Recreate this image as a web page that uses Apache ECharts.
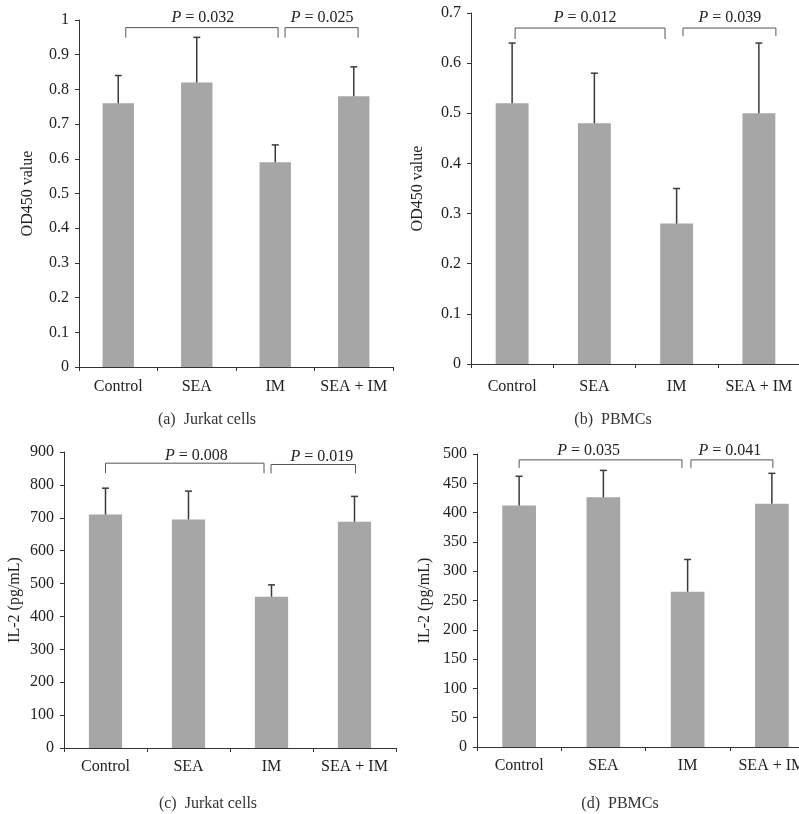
<!DOCTYPE html>
<html>
<head>
<meta charset="utf-8">
<script src="https://cdn.jsdelivr.net/npm/echarts@6/dist/echarts.min.js"></script>
<style>html,body{margin:0;padding:0;background:#fff;}#c{width:799px;height:814px;}</style>
</head>
<body>
<div id="c"></div>
<script>
// ---- data ----
const categories = ['Control', 'SEA', 'IM', 'SEA + IM'];

const jurkatOD = [0.76, 0.82, 0.59, 0.78];
const jurkatODErr = [0.08, 0.13, 0.05, 0.085];
const pbmcOD = [0.52, 0.48, 0.28, 0.50];
const pbmcODErr = [0.12, 0.10, 0.07, 0.14];
const jurkatIL2 = [710, 695, 460, 688];
const jurkatIL2Err = [80, 86, 36, 77];
const pbmcIL2 = [412, 426, 265, 415];
const pbmcIL2Err = [50, 46, 55, 52];

const bracketsA = [[0, 2, 0.978, '0.032'], [2, 3, 0.978, '0.025']];
const bracketsB = [[0, 2, 0.670, '0.012'], [2, 3, 0.670, '0.039']];
const bracketsC = [[0, 2, 866, '0.008'], [2, 3, 862, '0.019']];
const bracketsD = [[0, 2, 490, '0.035'], [2, 3, 490, '0.041']];

const captions = ['(a)  Jurkat cells', '(b)  PBMCs', '(c)  Jurkat cells', '(d)  PBMCs'];
const yNames = ['OD450 value', 'OD450 value', 'IL-2 (pg/mL)', 'IL-2 (pg/mL)'];
const yMax = [1, 0.7, 900, 500];
const yStep = [0.1, 0.1, 100, 50];

// ---- layout / style (pixels) ----
const FONT = '"Liberation Serif", "DejaVu Serif", serif';
const AXIS = '#333';
const BAR = '#a6a6a6';
const ERR = '#3a3a3a';
const BRK = '#555';

const grids = [
  { left: 79, top: 20, width: 314, height: 347 },
  { left: 471, top: 13, width: 329, height: 351 },
  { left: 64, top: 452, width: 332, height: 296 },
  { left: 477, top: 454, width: 337, height: 293 }
];
const nameGaps = [43, 45, 41, 44];
const xLabelMargin = [12, 15, 11, 11];
const captionPos = [[202, 407], [608, 407], [203, 791], [615, 791]];

// bracket end offsets from category centres, drop lengths, text shift
const bracketLook = [
  { dx: [[7.5, 2.8], [9.8, 4.3]], drop: [[10, 10], [10, 10]], tdx: [1, 0.5], tdy: -10 },
  { dx: [[3, -11.6], [6.4, 17]], drop: [[11, 11], [8, 8]], tdx: [-5, 0.5], tdy: -10 },
  { dx: [[0, -7.5], [-0.5, 1]], drop: [[10, 10], [9, 9]], tdx: [11.7, 8.7], tdy: -7.5 },
  { dx: [[0, -5.7], [3.3, 1]], drop: [[8, 8], [8, 8]], tdx: [-12, -2], tdy: -9.5 }
];

const means = [jurkatOD, pbmcOD, jurkatIL2, pbmcIL2];
const errs = [jurkatODErr, pbmcODErr, jurkatIL2Err, pbmcIL2Err];
const brackets = [bracketsA, bracketsB, bracketsC, bracketsD];

const chart = echarts.init(document.getElementById('c'), null, { renderer: 'canvas' });

const option = {
  animation: false,
  backgroundColor: '#fff',
  grid: grids.map(g => Object.assign({ containLabel: false, outerBoundsMode: 'none' }, g)),
  title: captions.map((t, i) => ({
    text: t, left: captionPos[i][0], top: captionPos[i][1], textAlign: 'center',
    textStyle: { fontFamily: FONT, fontSize: 16, fontWeight: 'normal', color: '#333' }
  })),
  xAxis: grids.map((g, i) => ({
    type: 'category', gridIndex: i, data: categories,
    axisLine: { lineStyle: { color: AXIS, width: 1 } },
    axisTick: { show: true, length: 4, lineStyle: { color: AXIS } },
    axisLabel: { fontFamily: FONT, fontSize: 16, color: '#222', margin: xLabelMargin[i], interval: 0 },
    splitLine: { show: false }
  })),
  yAxis: grids.map((g, i) => ({
    type: 'value', gridIndex: i, min: 0, max: yMax[i], interval: yStep[i],
    name: yNames[i], nameLocation: 'middle', nameGap: nameGaps[i], nameRotate: 90,
    nameTextStyle: { fontFamily: FONT, fontSize: 16, color: '#222' },
    axisLine: { show: true, lineStyle: { color: AXIS, width: 1 } },
    axisTick: { show: true, length: 4, lineStyle: { color: AXIS } },
    axisLabel: { fontFamily: FONT, fontSize: 16, color: '#222', margin: 10 },
    splitLine: { show: false }
  })),
  series: []
};

for (let i = 0; i < 4; i++) {
  option.series.push({
    type: 'bar', xAxisIndex: i, yAxisIndex: i, data: means[i],
    barWidth: '40%', itemStyle: { color: BAR }, silent: true
  });
  option.series.push({
    type: 'custom', xAxisIndex: i, yAxisIndex: i, silent: true, z: 5,
    data: means[i].map((m, k) => [k, m, m + errs[i][k]]),
    renderItem: function (params, api) {
      const p0 = api.coord([api.value(0), api.value(1)]);
      const p1 = api.coord([api.value(0), api.value(2)]);
      const st = { stroke: ERR, lineWidth: 1.5 };
      return {
        type: 'group', children: [
          { type: 'line', shape: { x1: p0[0], y1: p0[1], x2: p1[0], y2: p1[1] }, style: st },
          { type: 'line', shape: { x1: p1[0] - 3.5, y1: p1[1], x2: p1[0] + 3.5, y2: p1[1] }, style: st }
        ]
      };
    }
  });
  const look = bracketLook[i];
  option.series.push({
    type: 'custom', xAxisIndex: i, yAxisIndex: i, silent: true, z: 6,
    data: brackets[i].map(b => [b[0], b[1], b[2]]),
    renderItem: function (params, api) {
      const j = params.dataIndex;
      const a = api.coord([api.value(0), api.value(2)]);
      const b = api.coord([api.value(1), api.value(2)]);
      const x1 = a[0] + look.dx[j][0], x2 = b[0] + look.dx[j][1], y = a[1];
      const st = { stroke: BRK, lineWidth: 1, fill: null };
      const label = brackets[i][j][3];
      return {
        type: 'group', children: [
          { type: 'polyline', shape: { points: [[x1, y + look.drop[j][0]], [x1, y], [x2, y], [x2, y + look.drop[j][1]]] }, style: st },
          { type: 'text', style: {
              text: '{i|P} = ' + label,
              x: (x1 + x2) / 2 + look.tdx[j], y: y + look.tdy,
              align: 'center', verticalAlign: 'middle',
              font: '16px ' + FONT, fill: '#222',
              rich: { i: { fontStyle: 'italic', fontFamily: FONT, fontSize: 16, fill: '#222', color: '#222' } }
          } }
        ]
      };
    }
  });
}

chart.setOption(option);
</script>
</body>
</html>
